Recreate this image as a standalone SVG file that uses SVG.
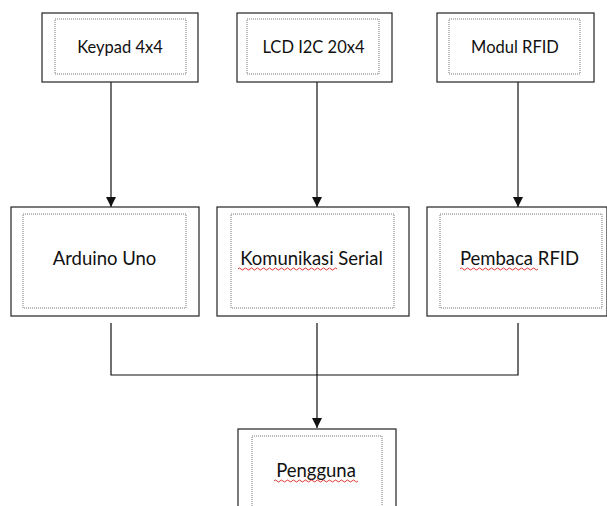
<svg xmlns="http://www.w3.org/2000/svg" width="607" height="506" viewBox="0 0 607 506">
<defs>
<style>
.outer{fill:#fff;stroke:#222;stroke-width:1.2}
.inner{fill:none;stroke:#777;stroke-width:1;stroke-dasharray:1 1}
.t{font-family:Lato,"Open Sans",sans-serif;fill:#111;text-anchor:middle}
.s{font-size:16.5px}
.m{font-size:18.5px}
.c{fill:none;stroke:#111;stroke-width:1.2}
.sq{fill:none;stroke:#e02020;stroke-width:0.9}
</style>
<marker id="ar" viewBox="0 0 10 10" refX="10" refY="5" markerWidth="10" markerHeight="10" markerUnits="userSpaceOnUse" orient="auto">
<path d="M0,0 L10,5 L0,10 z" fill="#111"/>
</marker>
</defs>
<g id="connectors">
<line class="c" x1="111" y1="82" x2="111" y2="207" marker-end="url(#ar)"/>
<line class="c" x1="317" y1="82" x2="317" y2="207" marker-end="url(#ar)"/>
<line class="c" x1="518" y1="82" x2="518" y2="207" marker-end="url(#ar)"/>
<polyline class="c" points="111,323 111,375 518,375 518,323"/>
<line class="c" x1="317" y1="323" x2="317" y2="428" marker-end="url(#ar)"/>
</g>
<g id="keypad">
<rect class="outer" x="42" y="13" width="156" height="69"/>
<rect class="inner" x="55" y="19" width="131" height="55"/>
<text class="t s" x="120" y="53">Keypad 4x4</text>
</g>
<g id="lcd">
<rect class="outer" x="237" y="13" width="155" height="69"/>
<rect class="inner" x="247" y="19" width="132" height="55"/>
<text class="t s" x="313.5" y="53">LCD I2C 20x4</text>
</g>
<g id="modul-rfid">
<rect class="outer" x="437" y="13" width="157" height="69"/>
<rect class="inner" x="449" y="19" width="131" height="55"/>
<text class="t s" x="515" y="53">Modul RFID</text>
</g>
<g id="arduino">
<rect class="outer" x="11" y="207" width="188" height="109"/>
<rect class="inner" x="23" y="214" width="163" height="94"/>
<text class="t m" x="104.5" y="265">Arduino Uno</text>
</g>
<g id="komunikasi">
<rect class="outer" x="217" y="207" width="192" height="109"/>
<rect class="inner" x="231" y="214" width="163" height="94"/>
<text class="t m" x="311.5" y="265">Komunikasi Serial</text>
<path class="sq" d="M238,269 q1.5,-2 3,0 t3,0 t3,0 t3,0 t3,0 t3,0 t3,0 t3,0 t3,0 t3,0 t3,0 t3,0 t3,0 t3,0 t3,0 t3,0 t3,0 t3,0 t3,0 t3,0 t3,0 t3,0 t3,0 t3,0 t3,0 t3,0 t3,0 t3,0 t3,0 t3,0 t3,0 t3,0 t3,0"/>
</g>
<g id="pembaca">
<rect class="outer" x="427" y="207" width="180" height="109"/>
<rect class="inner" x="440" y="214" width="162" height="94"/>
<text class="t m" x="519.5" y="265">Pembaca RFID</text>
<path class="sq" d="M460,269 q1.5,-2 3,0 t3,0 t3,0 t3,0 t3,0 t3,0 t3,0 t3,0 t3,0 t3,0 t3,0 t3,0 t3,0 t3,0 t3,0 t3,0 t3,0 t3,0 t3,0 t3,0 t3,0 t3,0 t3,0 t3,0 t3,0 t3,0"/>
</g>
<g id="pengguna">
<rect class="outer" x="238" y="429" width="158" height="80"/>
<rect class="inner" x="252" y="436" width="130" height="72"/>
<text class="t m" x="316" y="477">Pengguna</text>
<path class="sq" d="M274,481 q1.5,-2 3,0 t3,0 t3,0 t3,0 t3,0 t3,0 t3,0 t3,0 t3,0 t3,0 t3,0 t3,0 t3,0 t3,0 t3,0 t3,0 t3,0 t3,0 t3,0 t3,0 t3,0 t3,0 t3,0 t3,0 t3,0 t3,0 t3,0 t3,0"/>
</g>
</svg>
